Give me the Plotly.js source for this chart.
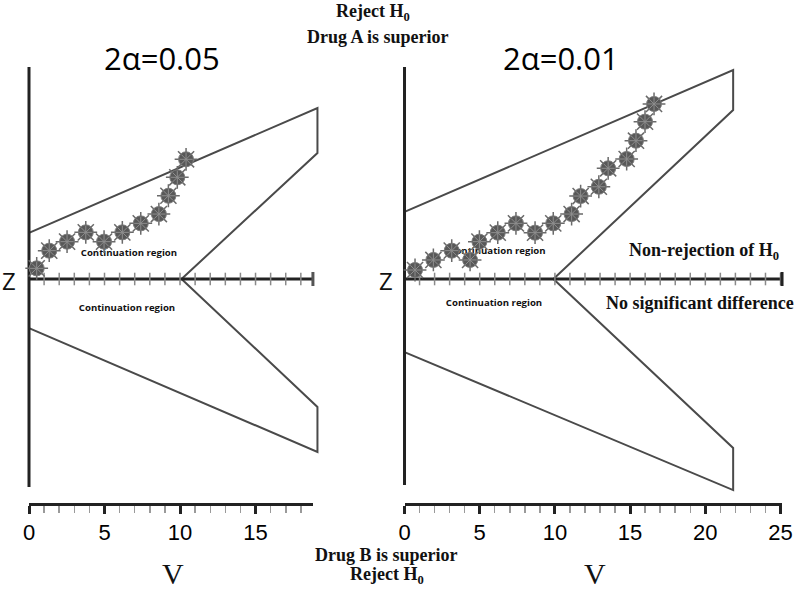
<!DOCTYPE html>
<html>
<head>
<meta charset="utf-8">
<script src="https://cdn.plot.ly/plotly-3.0.1.min.js"></script>
<style>html,body{margin:0;padding:0;background:#fff;}#chart{width:800px;height:589px;}</style>
</head>
<body>
<div id="chart"></div>
<script>
// ---------- data ----------
// Left panel (2α = 0.05)
const leftPathV = [0.51, 1.34, 2.52, 3.76, 4.97, 6.18, 7.40, 8.60, 9.23, 9.82, 10.40];
const leftPathZ = [0.71, 1.89, 2.49, 3.11, 2.49, 3.11, 3.71, 4.33, 5.55, 6.78, 7.98];
const leftUpperV = [0, 19.1, 19.1, 10.1];
const leftUpperZ = [3.07, 11.4, 8.4, 0];
const leftLowerV = [0, 19.1, 19.1, 10.1];
const leftLowerZ = [-3.27, -11.53, -8.53, 0];
const leftVmax = 18.8;
const leftZTop = 14.13, leftZBottom = -13.87;

// Right panel (2α = 0.01)
const rightPathV = [0.70, 1.92, 3.14, 4.36, 4.98, 6.20, 7.41, 8.68, 9.89, 11.11, 11.71, 12.92, 13.54, 14.77, 15.39, 15.99, 16.59];
const rightPathZ = [0.60, 1.27, 1.89, 1.27, 2.49, 3.09, 3.71, 3.09, 3.71, 4.33, 5.53, 6.15, 7.38, 8.00, 9.22, 10.49, 11.67];
const rightUpperV = [0, 21.85, 21.85, 9.9];
const rightUpperZ = [4.47, 13.93, 11.27, 0];
const rightLowerV = [0, 21.85, 21.85, 9.9];
const rightLowerZ = [-4.87, -14.07, -11.27, 0];
const rightVmax = 25.1;
const rightZTop = 14.13, rightZBottom = -13.73;

const tickValsLeft = [0, 5, 10, 15];
const tickValsRight = [0, 5, 10, 15, 20, 25];
const panelTitles = ['2α=0.05', '2α=0.01'];
const regionLabel = 'Continuation region';

// ---------- helpers ----------
const W = 800, H = 589;
const px = v => v / W;
const py = v => 1 - v / H;

function range(a, b) { const r = []; for (let i = a; i <= b; i++) r.push(i); return r; }

function panelTraces(xa, ya, upV, upZ, loV, loZ, vmax, zTop, zBot, pathV, pathZ, lblPos, capColor) {
  const t = [];
  const bnd = {color: '#4a4a4a', width: 2};
  t.push({x: upV, y: upZ, xaxis: xa, yaxis: ya, mode: 'lines', line: bnd, hoverinfo: 'skip'});
  t.push({x: loV, y: loZ, xaxis: xa, yaxis: ya, mode: 'lines', line: bnd, hoverinfo: 'skip'});
  // vertical Z axis
  t.push({x: [0, 0], y: [zTop, zBot], xaxis: xa, yaxis: ya, mode: 'lines', line: {color: '#222', width: 3}, hoverinfo: 'skip'});
  // horizontal Z = 0 line
  t.push({x: [0, vmax], y: [0, 0], xaxis: xa, yaxis: ya, mode: 'lines', line: {color: '#222', width: 3}, hoverinfo: 'skip'});
  const tv = range(1, Math.floor(vmax));
  t.push({x: tv, y: tv.map(() => 0), xaxis: xa, yaxis: ya, mode: 'markers',
    marker: {symbol: 'line-ns', size: 9, line: {color: '#8a8a8a', width: 1.5}}, hoverinfo: 'skip', cliponaxis: false});
  t.push({x: [vmax], y: [0], xaxis: xa, yaxis: ya, mode: 'markers',
    marker: {symbol: 'line-ns', size: 10, line: {color: capColor, width: 3}}, hoverinfo: 'skip', cliponaxis: false});
  // region labels (under the dots)
  t.push({x: lblPos.x, y: lblPos.y, xaxis: xa, yaxis: ya, mode: 'text',
    text: [regionLabel, regionLabel], textfont: {family: 'Open Sans', size: 9.6, color: '#111', weight: 'bold'},
    textposition: 'middle center', hoverinfo: 'skip', cliponaxis: false});
  // path dots (virus-like markers)
  t.push({x: pathV, y: pathZ, xaxis: xa, yaxis: ya, mode: 'markers',
    marker: {symbol: 'asterisk-open', size: 19, color: '#6a6a6a', line: {color: '#6a6a6a', width: 1.5}}, hoverinfo: 'skip', cliponaxis: false});
  t.push({x: pathV, y: pathZ, xaxis: xa, yaxis: ya, mode: 'markers',
    marker: {symbol: 'circle', size: 15, color: '#585858', line: {color: '#7c7c7c', width: 1}}, hoverinfo: 'skip', cliponaxis: false});
  t.push({x: pathV, y: pathZ, xaxis: xa, yaxis: ya, mode: 'markers',
    marker: {symbol: 'asterisk-open', size: 11, color: '#8e8e8e', line: {color: '#8e8e8e', width: 1}}, hoverinfo: 'skip', cliponaxis: false});
  return t;
}

const traces = [].concat(
  panelTraces('x', 'y', leftUpperV, leftUpperZ, leftLowerV, leftLowerZ, leftVmax, leftZTop, leftZBottom,
    leftPathV, leftPathZ, {x: [6.62, 6.49], y: [1.67, -2.0]}, '#555'),
  panelTraces('x2', 'y2', rightUpperV, rightUpperZ, rightLowerV, rightLowerZ, rightVmax, rightZTop, rightZBottom,
    rightPathV, rightPathZ, {x: [6.18, 5.95], y: [1.8, -1.67]}, '#222'),
  [
    {x: [0], y: [0], xaxis: 'x3', yaxis: 'y3', mode: 'markers', marker: {opacity: 0}, hoverinfo: 'skip'},
    {x: [0], y: [0], xaxis: 'x4', yaxis: 'y4', mode: 'markers', marker: {opacity: 0}, hoverinfo: 'skip'}
  ]
);

const yDom = [py(495), py(60)];
const hidden = {visible: false, fixedrange: true};
function bottomAxis(dom, rng, vals, anchor) {
  return {
    domain: dom, range: rng, anchor: anchor, side: 'bottom',
    showline: true, linecolor: '#222', linewidth: 3,
    ticks: 'outside', ticklen: 8, tickwidth: 3, tickcolor: '#222',
    tickvals: vals, ticktext: vals.map(String),
    tickfont: {family: 'Liberation Sans', size: 22, color: '#000'},
    minor: {dtick: 1, tick0: 0, ticks: 'outside', ticklen: 7, tickwidth: 1.5, tickcolor: '#9a9a9a', showgrid: false},
    showgrid: false, zeroline: false, fixedrange: true
  };
}
const bottomDom = [py(503), py(502)];

const layout = {
  width: W, height: H,
  margin: {l: 0, r: 0, t: 0, b: 0},
  paper_bgcolor: '#fff', plot_bgcolor: 'rgba(0,0,0,0)',
  showlegend: false,
  xaxis: Object.assign({domain: [px(20), px(325)], range: [-0.596, 19.6], anchor: 'y'}, hidden),
  yaxis: Object.assign({domain: yDom, range: [-14.4, 14.6], anchor: 'x'}, hidden),
  xaxis2: Object.assign({domain: [px(395), px(790)], range: [-0.632, 25.63], anchor: 'y2'}, hidden),
  yaxis2: Object.assign({domain: yDom, range: [-14.4, 14.6], anchor: 'x2'}, hidden),
  xaxis3: bottomAxis([px(29), px(313)], [0, leftVmax], tickValsLeft, 'y3'),
  yaxis3: Object.assign({domain: bottomDom, range: [0, 1], anchor: 'x3'}, hidden),
  xaxis4: bottomAxis([px(404.5), px(782)], [0, rightVmax], tickValsRight, 'y4'),
  yaxis4: Object.assign({domain: bottomDom, range: [0, 1], anchor: 'x4'}, hidden),
  annotations: []
};

function ann(text, x, y, font, yanchor) {
  layout.annotations.push({text: text, xref: 'paper', yref: 'paper', x: px(x), y: py(y),
    xanchor: 'center', yanchor: yanchor || 'middle', showarrow: false, font: font, borderpad: 0});
}
const serifB = {family: 'Liberation Serif', size: 18, color: '#111'};
ann('<b>Reject H<sub>0</sub></b>', 373, 0, serifB, 'top');
ann('<b>Drug A is superior</b>', 378, 37, serifB);
ann('<b>Drug B is superior</b>', 386, 555, serifB);
ann('<b>Reject H<sub>0</sub></b>', 387, 575, serifB);
ann('<b>Non-rejection of H<sub>0</sub></b>', 704, 251, serifB);
ann('<b>No significant difference</b>', 700, 303, serifB);
ann(panelTitles[0], 162, 58, {family: 'Open Sans', size: 31, color: '#000'});
ann(panelTitles[1], 561, 58, {family: 'Open Sans', size: 31, color: '#000'});
ann('Z', 9, 280, {family: 'Open Sans', size: 24, color: '#111'});
ann('Z', 386, 280, {family: 'Open Sans', size: 24, color: '#111'});
ann('V', 173, 573, {family: 'Liberation Serif', size: 30, color: '#111'});
ann('V', 595, 573, {family: 'Liberation Serif', size: 30, color: '#111'});

Plotly.newPlot('chart', traces, layout, {staticPlot: true, displayModeBar: false});
</script>
</body>
</html>
